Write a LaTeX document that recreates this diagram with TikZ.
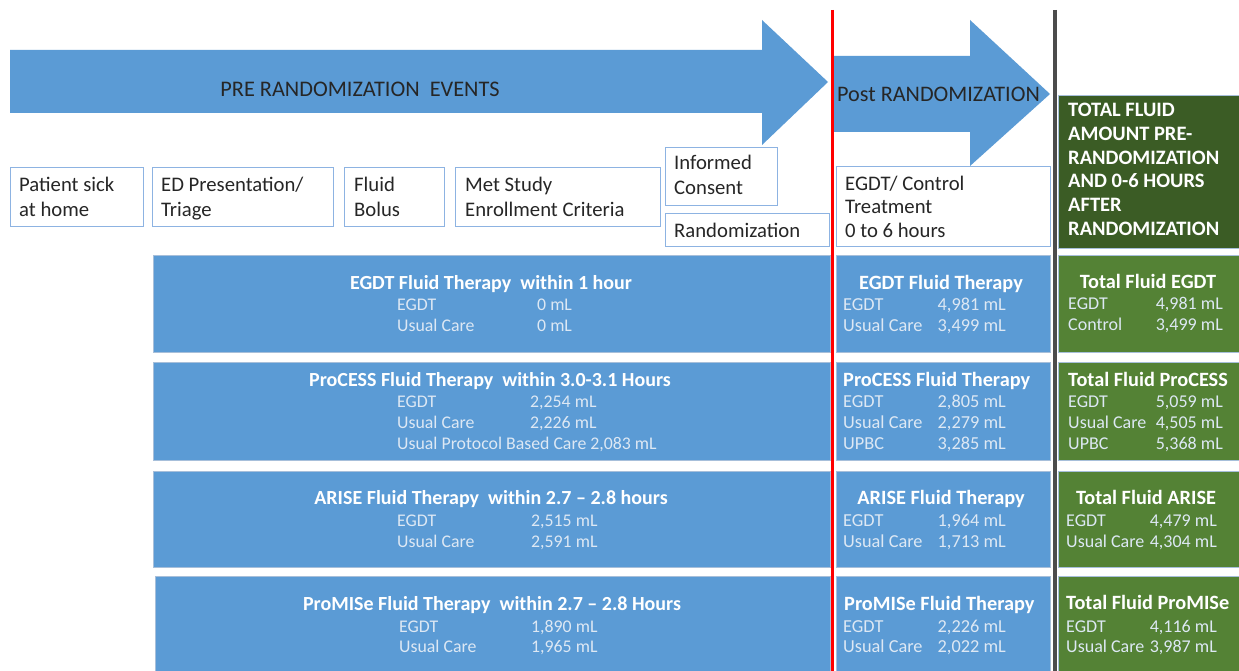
\documentclass[tikz,border=0pt]{standalone}
\usepackage{fontspec}
\setmainfont{Carlito}
\definecolor{blu}{HTML}{5B9BD5}
\definecolor{rowb}{HTML}{A7BFDA}
\definecolor{boxb}{HTML}{8DB3E2}
\definecolor{dgrn}{HTML}{3B5C25}
\definecolor{grn}{HTML}{548235}
\definecolor{lite}{HTML}{DDE8F4}
\definecolor{txt}{HTML}{262626}
\begin{document}
\begin{tikzpicture}[x=1pt,y=-1pt,
  box/.style={draw=boxb, fill=white, line width=1pt, anchor=north west, inner sep=0},
  bluerow/.style={draw=rowb, fill=blu, line width=1pt, anchor=north west, inner sep=0},
  greenrow/.style={draw=rowb, fill=grn, line width=1pt, anchor=north west, inner sep=0},
  ttl/.style={font=\fontsize{20}{22}\selectfont\bfseries, text=white, inner sep=0, anchor=base},
  mttl/.style={font=\fontsize{20.3}{22}\selectfont\bfseries, text=white, inner sep=0, anchor=base},
  dat/.style={font=\fontsize{17.8}{20}\selectfont, text=lite, inner sep=0, anchor=base west},
  mdat/.style={font=\fontsize{18.3}{20}\selectfont, text=lite, inner sep=0, anchor=base west},
  rdat/.style={font=\fontsize{18}{20}\selectfont, text=lite, inner sep=0, anchor=base west},
  lab/.style={font=\fontsize{20.7}{24}\selectfont, text=txt, inner sep=0, anchor=base west},
  hdr/.style={font=\fontsize{20.5}{24}\selectfont\bfseries, text=white, inner sep=0, anchor=base west},
  arr/.style={fill=blu, draw=none}
]
\useasboundingbox (0,0) rectangle (1239,671);
\fill[white] (0,0) rectangle (1239,671);

% big arrows
\fill[arr] (10,50) -- (762,50) -- (762,20) -- (828,82) -- (762,145) -- (762,113) -- (10,113) -- cycle;
\node[font=\fontsize{22.3}{24}\selectfont, text=txt, anchor=base, inner sep=0] (pre) at (360,96.5) {PRE RANDOMIZATION\ \ EVENTS};
\fill[arr] (834,56) -- (970,56) -- (970,20) -- (1050,94) -- (970,166) -- (970,132) -- (834,132) -- cycle;
\node[font=\fontsize{22.2}{24}\selectfont, text=txt, anchor=base west, inner sep=0] (post) at (837,102) {Post RANDOMIZATION};

% top boxes
\node[box, minimum width=133, minimum height=59] (b1) at (10,167) {};
\node[lab] (t1a) at (19,192) {Patient sick};
\node[lab] (t1b) at (19,216) {at home};
\node[box, minimum width=181, minimum height=59] (b2) at (152,167) {};
\node[lab] (t2a) at (161,192) {ED Presentation/};
\node[lab] (t2b) at (161,216) {Triage};
\node[box, minimum width=100, minimum height=59] (b3) at (344,167) {};
\node[lab] (t3a) at (354,192) {Fluid};
\node[lab] (t3b) at (354,216) {Bolus};
\node[box, minimum width=205, minimum height=59] (b4) at (455,167) {};
\node[lab] (t4a) at (465,192) {Met Study};
\node[lab] (t4b) at (465,216) {Enrollment Criteria};
\node[box, minimum width=112, minimum height=58] (b5) at (665,147) {};
\node[lab] (t5a) at (674,170) {Informed};
\node[lab] (t5b) at (674,194.5) {Consent};
\node[box, minimum width=164, minimum height=33] (b6) at (665,213) {};
\node[lab] (t6) at (674,237) {Randomization};
\node[box, minimum width=214, minimum height=80] (b7) at (836,166) {};
\node[lab] (t7a) at (845,190) {EGDT/ Control};
\node[lab] (t7b) at (845,214) {Treatment};
\node[lab] (t7c) at (845,237) {0 to 6 hours};

% header green
\node[draw=rowb, fill=dgrn, anchor=north west, minimum width=181, minimum height=153, inner sep=0] (hd) at (1058,95) {};
\node[hdr] (h1) at (1068,116.6) {TOTAL FLUID};
\node[hdr] (h2) at (1068,140.4) {AMOUNT PRE-};
\node[hdr] (h3) at (1068,164.2) {RANDOMIZATION};
\node[hdr] (h4) at (1068,188) {AND 0-6 HOURS};
\node[hdr] (h5) at (1068,211.8) {AFTER};
\node[hdr] (h6) at (1068,235.6) {RANDOMIZATION};

% left rows
\node[bluerow, minimum width=677, minimum height=97] (l1) at (153,255) {};
\node[bluerow, minimum width=677, minimum height=98] (l2) at (153,362) {};
\node[bluerow, minimum width=677, minimum height=96] (l3) at (153,471) {};
\node[bluerow, minimum width=675, minimum height=100] (l4) at (155,576) {};
% middle rows
\node[bluerow, minimum width=214, minimum height=97] (m1) at (836,255) {};
\node[bluerow, minimum width=214, minimum height=98] (m2) at (836,362) {};
\node[bluerow, minimum width=214, minimum height=96] (m3) at (836,471) {};
\node[bluerow, minimum width=214, minimum height=100] (m4) at (836,576) {};
% right rows
\node[greenrow, minimum width=181, minimum height=97] (r1) at (1058,255) {};
\node[greenrow, minimum width=181, minimum height=98] (r2) at (1058,362) {};
\node[greenrow, minimum width=181, minimum height=96] (r3) at (1058,471) {};
\node[greenrow, minimum width=181, minimum height=100] (r4) at (1058,576) {};

% left texts
\node[ttl] (l1t) at (491,289.5) {EGDT Fluid Therapy\ \ within 1 hour};
\node[dat] (l1a) at (397,310) {EGDT};
\node[dat] (l1av) at (537,310) {0 mL};
\node[dat] (l1b) at (397,331) {Usual Care};
\node[dat] (l1bv) at (537,331) {0 mL};

\node[ttl] (l2t) at (490,386.5) {ProCESS Fluid Therapy\ \ within 3.0-3.1 Hours};
\node[dat] (l2a) at (397,407) {EGDT};
\node[dat] (l2av) at (530,407) {2,254 mL};
\node[dat] (l2b) at (397,428) {Usual Care};
\node[dat] (l2bv) at (530,428) {2,226 mL};
\node[dat] (l2c) at (397,449) {Usual Protocol Based Care 2,083 mL};

\node[ttl] (l3t) at (491,504.5) {ARISE Fluid Therapy\ \ within 2.7 -- 2.8 hours};
\node[dat] (l3a) at (397,526) {EGDT};
\node[dat] (l3av) at (531,526) {2,515 mL};
\node[dat] (l3b) at (397,547) {Usual Care};
\node[dat] (l3bv) at (531,547) {2,591 mL};

\node[ttl] (l4t) at (492,610.5) {ProMISe Fluid Therapy\ \ within 2.7 -- 2.8 Hours};
\node[dat] (l4a) at (399,632) {EGDT};
\node[dat] (l4av) at (531,632) {1,890 mL};
\node[dat] (l4b) at (399,652) {Usual Care};
\node[dat] (l4bv) at (531,652) {1,965 mL};

% middle texts
\node[mttl] (m1t) at (941,289.5) {EGDT\ Fluid\ Therapy};
\node[mdat] (m1a) at (843,310.5) {EGDT};
\node[mdat, anchor=base east] (m1av) at (1006,310.5) {4,981 mL};
\node[mdat] (m1b) at (843,331.5) {Usual Care};
\node[mdat, anchor=base east] (m1bv) at (1006,331.5) {3,499 mL};

\node[mttl, anchor=base west] (m2t) at (843,386.5) {ProCESS\ Fluid\ Therapy};
\node[mdat] (m2a) at (843,407.5) {EGDT};
\node[mdat, anchor=base east] (m2av) at (1006,407.5) {2,805 mL};
\node[mdat] (m2b) at (843,428.5) {Usual Care};
\node[mdat, anchor=base east] (m2bv) at (1006,428.5) {2,279 mL};
\node[mdat] (m2c) at (843,449.5) {UPBC};
\node[mdat, anchor=base east] (m2cv) at (1006,449.5) {3,285 mL};

\node[mttl] (m3t) at (941,504.5) {ARISE Fluid Therapy};
\node[mdat] (m3a) at (843,526.5) {EGDT};
\node[mdat, anchor=base east] (m3av) at (1006,526.5) {1,964 mL};
\node[mdat] (m3b) at (843,547.5) {Usual Care};
\node[mdat, anchor=base east] (m3bv) at (1006,547.5) {1,713 mL};

\node[mttl, anchor=base west] (m4t) at (844,610.5) {ProMISe Fluid Therapy};
\node[mdat] (m4a) at (843,632.5) {EGDT};
\node[mdat, anchor=base east] (m4av) at (1006,632.5) {2,226 mL};
\node[mdat] (m4b) at (843,652.5) {Usual Care};
\node[mdat, anchor=base east] (m4bv) at (1006,652.5) {2,022 mL};

% right texts
\node[mttl] (r1t) at (1148,288.5) {Total\ Fluid\ EGDT};
\node[rdat] (r1a) at (1068,309) {EGDT};
\node[rdat, anchor=base east] (r1av) at (1223,309) {4,981 mL};
\node[rdat] (r1b) at (1068,330) {Control};
\node[rdat, anchor=base east] (r1bv) at (1223,330) {3,499 mL};

\node[mttl, anchor=base west] (r2t) at (1068,386.5) {Total Fluid ProCESS};
\node[rdat] (r2a) at (1068,407) {EGDT};
\node[rdat, anchor=base east] (r2av) at (1223,407) {5,059 mL};
\node[rdat] (r2b) at (1068,428) {Usual Care};
\node[rdat, anchor=base east] (r2bv) at (1223,428) {4,505 mL};
\node[rdat] (r2c) at (1068,449) {UPBC};
\node[rdat, anchor=base east] (r2cv) at (1223,449) {5,368 mL};

\node[mttl] (r3t) at (1146,504.5) {Total\ Fluid\ ARISE};
\node[rdat] (r3a) at (1066,526) {EGDT};
\node[rdat, anchor=base east] (r3av) at (1217,526) {4,479 mL};
\node[rdat] (r3b) at (1066,547) {Usual Care};
\node[rdat, anchor=base east] (r3bv) at (1217,547) {4,304 mL};

\node[mttl, anchor=base west] (r4t) at (1066,609.5) {Total Fluid ProMISe};
\node[rdat] (r4a) at (1066,632) {EGDT};
\node[rdat, anchor=base east] (r4av) at (1217,632) {4,116 mL};
\node[rdat] (r4b) at (1066,652) {Usual Care};
\node[rdat, anchor=base east] (r4bv) at (1217,652) {3,987 mL};

% vertical lines
\coordinate (redtop) at (832,10);
\coordinate (redbot) at (832,671);
\draw[red, line width=3pt] (redtop) -- (redbot);
\coordinate (blktop) at (1055,10);
\coordinate (blkbot) at (1055,671);
\draw[black!70, line width=3.5pt] (blktop) -- (blkbot);
\end{tikzpicture}
\end{document}
